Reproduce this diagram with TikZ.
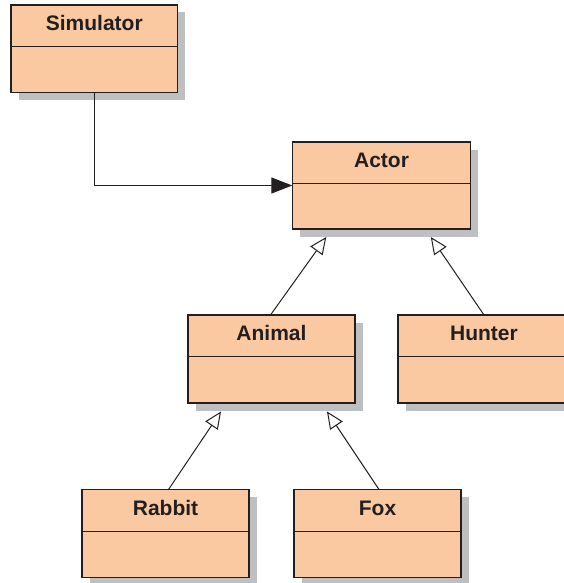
\documentclass[tikz,border=0pt]{standalone}
\usepackage{fontspec}
\setmainfont{Liberation Sans}
\usetikzlibrary{arrows.meta,shadows,calc}
\definecolor{peach}{RGB}{251,201,161}
\definecolor{shadowgray}{RGB}{190,191,193}
\definecolor{ink}{RGB}{35,31,32}
\tikzset{
  classbox/.style={draw=ink, line width=1.1pt, fill=peach, inner sep=0pt, outer sep=0pt,
    rectangle, drop shadow={shadow xshift=7.5pt, shadow yshift=-7.5pt, fill=shadowgray, opacity=1}},
  classlabel/.style={inner sep=0pt, text=ink, font=\fontsize{21}{24}\selectfont\bfseries},
  classline/.style={draw=ink, line width=1.1pt},
  assoc/.style={draw=ink, line width=1.1pt, -{Triangle[length=21pt,width=16pt,fill=ink]}},
  inherit/.style={draw=ink, line width=1pt, -{Triangle[open,length=17pt,width=15pt,fill=white]}}
}
% name, label, left, top, width, height, label x offset from box centre
\newcommand\umlbox[7]{%
  \node[classbox, minimum width=#5pt, minimum height=#6pt, anchor=north west] (#1) at (#3,#4) {};
  \node[classlabel, anchor=base] (#1-label) at ([xshift=#7pt,yshift=-25.7pt]#1.north) {#2};
  \draw[classline] ([yshift=-41.8pt]#1.north west) -- ([yshift=-41.8pt]#1.north east);
}
\begin{document}
\begin{tikzpicture}[x=1pt,y=-1pt]
\useasboundingbox (0,0) rectangle (563,583);
\umlbox{sim}{Simulator}{11}{5}{166.5}{87.5}{0}
\umlbox{actor}{Actor}{292.3}{142}{178.5}{87}{0}
\umlbox{animal}{Animal}{188}{315}{167}{88}{0}
\umlbox{hunter}{Hunter}{398}{315}{200}{88}{-14}
\umlbox{rabbit}{Rabbit}{82}{489.5}{167}{88}{0}
\umlbox{fox}{Fox}{294}{489.5}{167}{88}{0}
% tip points (on the shadow line below each parent)
\coordinate (actorTipA) at ([xshift=34pt,yshift=-8pt]actor.south west);
\coordinate (actorTipB) at ([xshift=138.5pt,yshift=-8pt]actor.south west);
\coordinate (animalTipA) at ([xshift=33pt,yshift=-8.5pt]animal.south west);
\coordinate (animalTipB) at ([xshift=139pt,yshift=-8.5pt]animal.south west);
\draw[assoc] (sim.south) |- (actor.west);
\draw[inherit] ([xshift=-1pt]animal.north) -- (actorTipA);
\draw[inherit] ([xshift=86pt]hunter.north west) -- (actorTipB);
\draw[inherit] ([xshift=3pt]rabbit.north) -- (animalTipA);
\draw[inherit] ([xshift=1.5pt]fox.north) -- (animalTipB);
\end{tikzpicture}
\end{document}
